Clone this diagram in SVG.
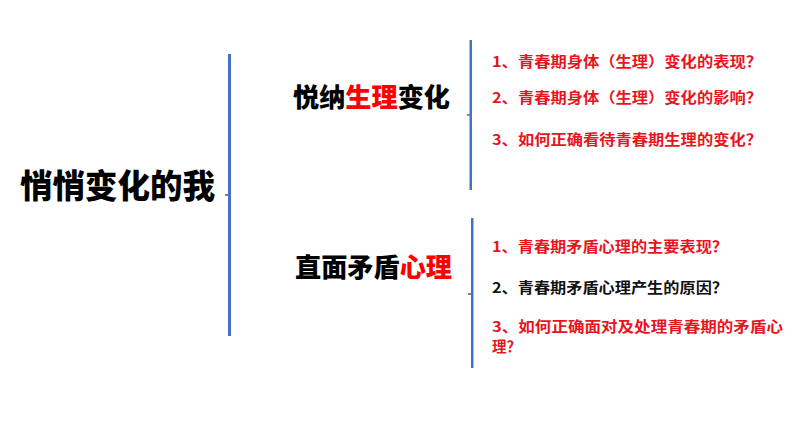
<svg xmlns="http://www.w3.org/2000/svg" width="794" height="447" viewBox="0 0 794 447">
<style>
text{font-family:"Noto Sans CJK SC","Noto Sans",sans-serif;font-weight:bold}
.main{font-size:33px;fill:#000;font-weight:900}
.sub{font-size:26px;fill:#000;font-weight:900}
.q{font-size:14.5px;fill:#E8141E}
.qb{font-size:14.5px;fill:#111}
.red{fill:#FF0000}
.bar{fill:#4472C4}
.tick{stroke:#1F2F55;stroke-width:1.2}
</style>
<rect width="794" height="447" fill="#fff"/>
<g id="connectors">
<rect class="bar" x="228" y="54" width="3" height="282"/>
<line class="tick" x1="225" y1="195" x2="228" y2="195"/>
<rect class="bar" x="469.5" y="40" width="2.5" height="150"/>
<line class="tick" x1="467" y1="115" x2="469.5" y2="115"/>
<rect class="bar" x="471" y="218" width="2.5" height="150"/>
<line class="tick" x1="468" y1="294" x2="471" y2="294"/>
</g>
<g id="root"><text class="main" x="20" y="198" textLength="195" lengthAdjust="spacingAndGlyphs">悄悄变化的我</text></g>
<g id="branch1"><text class="sub" x="293" y="107" textLength="157" lengthAdjust="spacingAndGlyphs">悦纳<tspan class="red">生理</tspan>变化</text></g>
<g id="branch2"><text class="sub" x="295" y="277" textLength="157" lengthAdjust="spacingAndGlyphs">直面矛盾<tspan class="red">心理</tspan></text></g>
<g id="q1-1"><text class="q" x="492" y="67" textLength="270" lengthAdjust="spacingAndGlyphs">1、青春期身体（生理）变化的表现？</text></g>
<g id="q1-2"><text class="q" x="492" y="103" textLength="270" lengthAdjust="spacingAndGlyphs">2、青春期身体（生理）变化的影响？</text></g>
<g id="q1-3"><text class="q" x="492" y="145" textLength="270" lengthAdjust="spacingAndGlyphs">3、如何正确看待青春期生理的变化？</text></g>
<g id="q2-1"><text class="q" x="492" y="252" textLength="236" lengthAdjust="spacingAndGlyphs">1、青春期矛盾心理的主要表现？</text></g>
<g id="q2-2"><text class="qb" x="492" y="293" textLength="236" lengthAdjust="spacingAndGlyphs">2、青春期矛盾心理产生的原因？</text></g>
<g id="q2-3"><text class="q" x="492" y="332" textLength="291" lengthAdjust="spacingAndGlyphs">3、如何正确面对及处理青春期的矛盾心</text><text class="q" x="492" y="352">理？</text></g>
</svg>
